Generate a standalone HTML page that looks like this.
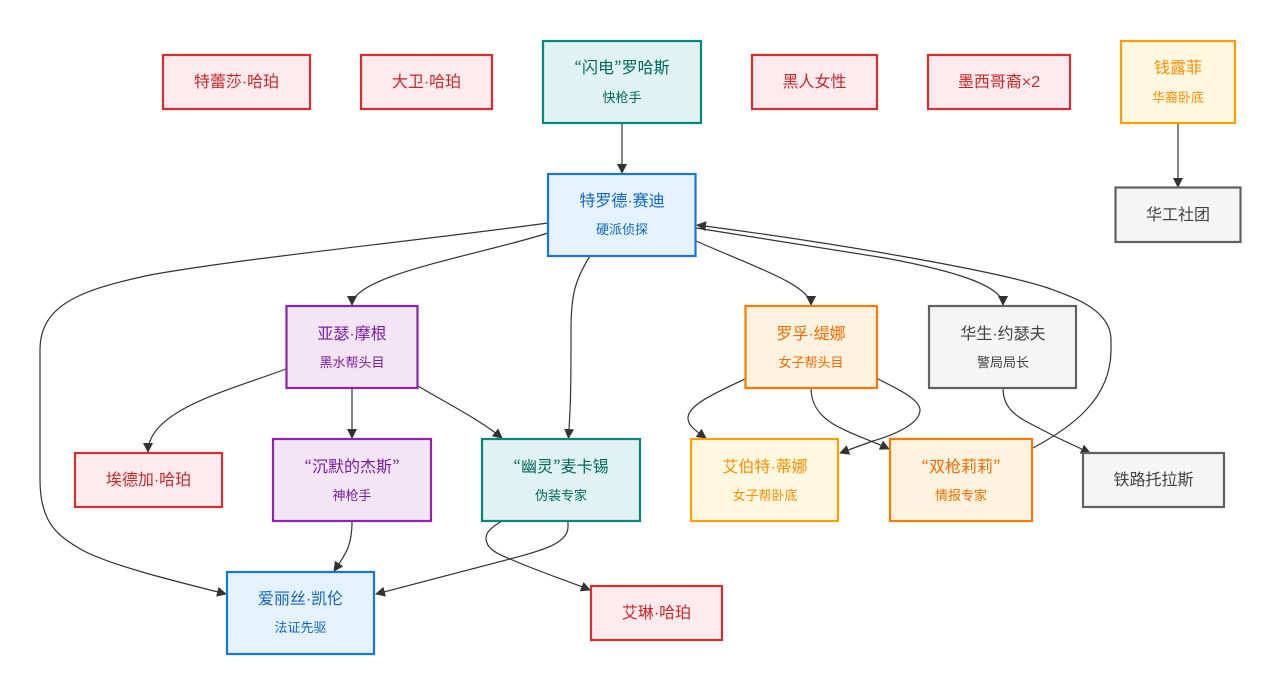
<!DOCTYPE html>
<html><head><meta charset="utf-8"><style>
html,body{margin:0;padding:0;background:#fff}
svg{display:block}
text{font-family:"Liberation Sans","Noto Sans CJK SC",sans-serif;text-anchor:middle}
.m{font-size:16px}.s{font-size:13px}
.e{fill:none;stroke:#333;stroke-width:1.2;marker-end:url(#a)}
.n rect{stroke-width:2.2}
.r rect{fill:#ffebee;stroke:#d32f2f}.r text{fill:#c62828}
.t rect{fill:#e0f2f1;stroke:#00897b}.t text{fill:#00695c}
.b rect{fill:#e3f2fd;stroke:#1976d2}.b text{fill:#1565c0}
.p rect{fill:#f3e5f5;stroke:#8e24aa}.p text{fill:#7b1fa2}
.o rect{fill:#fff3e0;stroke:#f57c00}.o text{fill:#ef6c00}
.y rect{fill:#fff8e1;stroke:#ffa000}.y text{fill:#ff8f00}
.g rect{fill:#f5f5f5;stroke:#616161}.g text{fill:#424242}
.q{font-family:"Noto Sans CJK KR",sans-serif}
</style></head><body>
<svg width="1280" height="692" viewBox="0 0 1280 692" xmlns="http://www.w3.org/2000/svg">
<defs><marker id="a" markerUnits="userSpaceOnUse" viewBox="0 0 10 10" refX="9" refY="5" markerWidth="10" markerHeight="10" orient="auto"><path d="M0 0L10 5L0 10Z" fill="#333"/></marker></defs>

<path class="e" d="M622 123L622 173"/>
<path class="e" d="M1178 123L1178 187"/>
<path class="e" d="M548 223C400 243 245 258 150 275C80 290 40 305 40 350L40 480C40 525 60 537 82 550C110 565 170 580 226 594"/>
<path class="e" d="M548 233C480 255 352 275 352 305"/>
<path class="e" d="M590 256C575 280 571 295 571 330C571 380 571 400 568.500 438"/>
<path class="e" d="M696 241C750 265 811 285 811 305"/>
<path class="e" d="M696 228L885 258C950 270 1003 285 1003 305"/>
<path class="e" d="M1033 448C1070 428 1111 400 1111 350L1111 340C1111 310 1075 298 1048 288C1000 272 850 245 697 225"/>
<path class="e" d="M286 369C230 390 148 410 148 452"/>
<path class="e" d="M352 388L352 438"/>
<path class="e" d="M418 386C450 405 480 420 502 438"/>
<path class="e" d="M745 379C715 393 688 405 688 418C688 426 696 431 706 438"/>
<path class="e" d="M878 379C900 390 920 400 920 410C920 425 890 436 873 441L840 453"/>
<path class="e" d="M811 388C811 405 820 415 830 422C845 432 870 440 889 449"/>
<path class="e" d="M1003 388C1003 415 1025 420 1056 437L1090 453"/>
<path class="e" d="M352 521C352 545 347 552 334 571"/>
<path class="e" d="M568 521L568 527C568 545 535 552 510 559L376 594"/>
<path class="e" d="M502 521C490 528 486 533 486 538C486 548 495 553 510 559C540 572 565 580 590 590"/>

<g class="n r"><rect x="163" y="55" width="147" height="54"/><text class="m" x="236.500" y="87">特蕾莎·哈珀</text></g>
<g class="n r"><rect x="361" y="55" width="131" height="54"/><text class="m" x="426.500" y="87">大卫·哈珀</text></g>
<g class="n t"><rect x="543" y="41" width="158" height="82"/><text class="m" x="622" y="73"><tspan class="q">“</tspan>闪电<tspan class="q">”</tspan>罗哈斯</text><text class="s" x="622" y="102">快枪手</text></g>
<g class="n r"><rect x="752" y="55" width="125" height="54"/><text class="m" x="814.500" y="87">黑人女性</text></g>
<g class="n r"><rect x="928" y="55" width="142" height="54"/><text class="m" x="999" y="87">墨西哥裔×2</text></g>
<g class="n y"><rect x="1121" y="41" width="114" height="82"/><text class="m" x="1178" y="73">钱露菲</text><text class="s" x="1178" y="102">华裔卧底</text></g>
<g class="n g"><rect x="1115.500" y="187.500" width="125" height="54.500"/><text class="m" x="1178" y="220">华工社团</text></g>
<g class="n b"><rect x="548" y="174" width="147.500" height="82"/><text class="m" x="622" y="206">特罗德·赛迪</text><text class="s" x="622" y="234">硬派侦探</text></g>
<g class="n p"><rect x="286.500" y="306" width="131" height="82"/><text class="m" x="352" y="339">亚瑟·摩根</text><text class="s" x="352" y="367">黑水帮头目</text></g>
<g class="n o"><rect x="745.500" y="306" width="131.500" height="82"/><text class="m" x="811" y="339">罗孚·缇娜</text><text class="s" x="811" y="367">女子帮头目</text></g>
<g class="n g"><rect x="929" y="306" width="147" height="82"/><text class="m" x="1003" y="339">华生·约瑟夫</text><text class="s" x="1003" y="367">警局局长</text></g>
<g class="n r"><rect x="75" y="453" width="147" height="54"/><text class="m" x="148.500" y="485">埃德加·哈珀</text></g>
<g class="n p"><rect x="273" y="439" width="158" height="82"/><text class="m" x="352" y="472"><tspan class="q">“</tspan>沉默的杰斯<tspan class="q">”</tspan></text><text class="s" x="352" y="500">神枪手</text></g>
<g class="n t"><rect x="482" y="439" width="158" height="82"/><text class="m" x="561" y="472"><tspan class="q">“</tspan>幽灵<tspan class="q">”</tspan>麦卡锡</text><text class="s" x="561" y="500">伪装专家</text></g>
<g class="n y"><rect x="691" y="439" width="147" height="82"/><text class="m" x="765" y="472">艾伯特·蒂娜</text><text class="s" x="765" y="500">女子帮卧底</text></g>
<g class="n o"><rect x="890" y="439" width="142" height="82"/><text class="m" x="961" y="472"><tspan class="q">“</tspan>双枪莉莉<tspan class="q">”</tspan></text><text class="s" x="961" y="500">情报专家</text></g>
<g class="n g"><rect x="1083" y="453" width="141" height="54"/><text class="m" x="1153.500" y="485">铁路托拉斯</text></g>
<g class="n b"><rect x="227" y="572" width="147" height="82"/><text class="m" x="300.500" y="604">爱丽丝·凯伦</text><text class="s" x="300.500" y="632">法证先驱</text></g>
<g class="n r"><rect x="591" y="586" width="131" height="54"/><text class="m" x="656.500" y="618">艾琳·哈珀</text></g>
</svg>
</body></html>
